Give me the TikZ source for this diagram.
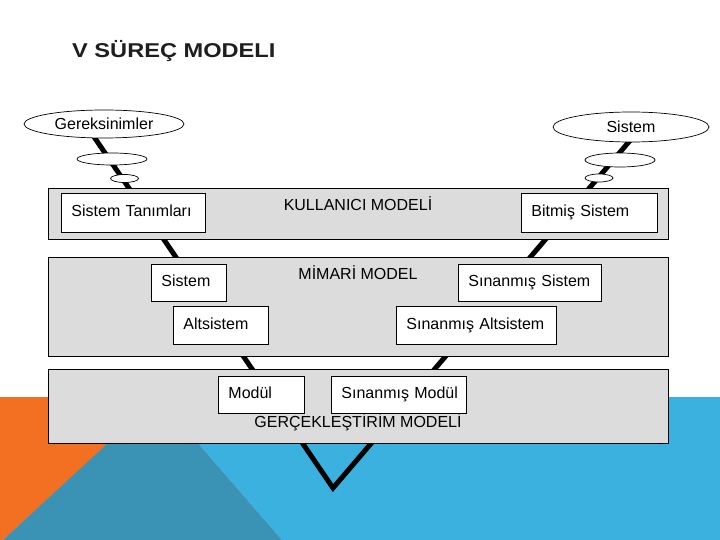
\documentclass[tikz,border=0pt]{standalone}
\usepackage{graphicx}
\usepackage{fontspec}
\setmainfont{Liberation Sans}
\usetikzlibrary{shapes.geometric}
\definecolor{bgorange}{HTML}{F36F21}
\definecolor{bgteal}{HTML}{3A93B5}
\definecolor{bgblue}{HTML}{3BB1E0}
\definecolor{bandgray}{HTML}{DCDCDC}
\definecolor{titlegray}{HTML}{1E1E1E}
\begin{document}
\begin{tikzpicture}[x=1pt,y=-1pt,
  band/.style={draw=black, fill=bandgray, line width=0.9pt, anchor=north west, inner sep=0pt},
  box/.style={draw=black, fill=white, line width=0.9pt, anchor=north west, inner xsep=10pt, inner ysep=0pt,
    align=left, text height=11.5pt, text depth=3.5pt, font=\fontsize{16}{18}\selectfont},
  oval/.style={ellipse, draw=black, fill=white, line width=0.7pt, inner sep=0pt, font=\fontsize{16}{18}\selectfont},
  vline/.style={line width=5pt, black},
  bandlabel/.style={font=\fontsize{16}{18}\selectfont, inner sep=0pt}]
\useasboundingbox (0,0) rectangle (720,540);
% background
\fill[white] (0,0) rectangle (720,540);
\fill[bgorange] (0,397) -- (160,397) -- (3,540) -- (0,540) -- cycle;
\fill[bgblue] (158,397) -- (720,397) -- (720,540) -- (282,540) -- cycle;
\fill[bgteal] (158,397) -- (282,540) -- (3,540) -- cycle;
% title
\node[anchor=base west, inner sep=0pt, text=titlegray, font=\bfseries\fontsize{20}{24}\selectfont] (title) at (72,58) {\scalebox{1.18}[1]{V SÜREÇ MODELI}};
% V line
\coordinate (vl) at (88,128);
\coordinate (apex) at (333,488);
\coordinate (vr) at (639,130);
\draw[vline] (vl) -- (apex) -- (vr);
% bands
\node[band, minimum width=620pt, minimum height=51pt] (b1) at (48,188) {};
\node[band, minimum width=620pt, minimum height=99pt] (b2) at (48,257) {};
\node[band, minimum width=620pt, minimum height=74pt] (b3) at (48,369) {};
% band labels
\node[bandlabel] (kul) at (358,204) {KULLANICI MODELİ};
\node[bandlabel] (mim) at (358,273) {MİMARİ MODEL};
\node[bandlabel] (ger3) at (358,422) {GERÇEKLEŞTİRİM MODELİ};
% boxes
\node[box, text width=124pt, minimum height=39pt] (st) at (61,193) {Sistem~Tanımları};
\node[box, text width=116pt, minimum height=39pt] (bs) at (521,193) {Bitmiş~Sistem};
\node[box, text width=55pt, minimum height=37pt] (ss) at (151,264) {Sistem};
\node[box, text width=123pt, minimum height=37pt] (sns) at (458,264) {Sınanmış~Sistem};
\node[box, text width=75pt, minimum height=38pt] (alt) at (173,306) {Altsistem};
\node[box, text width=140pt, minimum height=38pt] (sas) at (396,306) {Sınanmış~Altsistem};
\node[box, text width=66pt, minimum height=37pt] (md) at (218,376) {Modül};
\node[box, text width=115pt, minimum height=37pt] (smd) at (331,376) {Sınanmış~Modül};
% ellipses
\node[oval, minimum width=160pt, minimum height=28pt] (gerek) at (104,124) {Gereksinimler};
\node[oval, minimum width=156pt, minimum height=30pt] (sys) at (631,127) {Sistem};
\node[oval, minimum width=70pt, minimum height=12pt] (e1) at (112,159) {};
\node[oval, minimum width=28pt, minimum height=8pt] (e2) at (124.5,178.5) {};
\node[oval, minimum width=70pt, minimum height=14pt] (e3) at (620,160) {};
\node[oval, minimum width=28pt, minimum height=8pt] (e4) at (599,178) {};
\end{tikzpicture}
\end{document}
